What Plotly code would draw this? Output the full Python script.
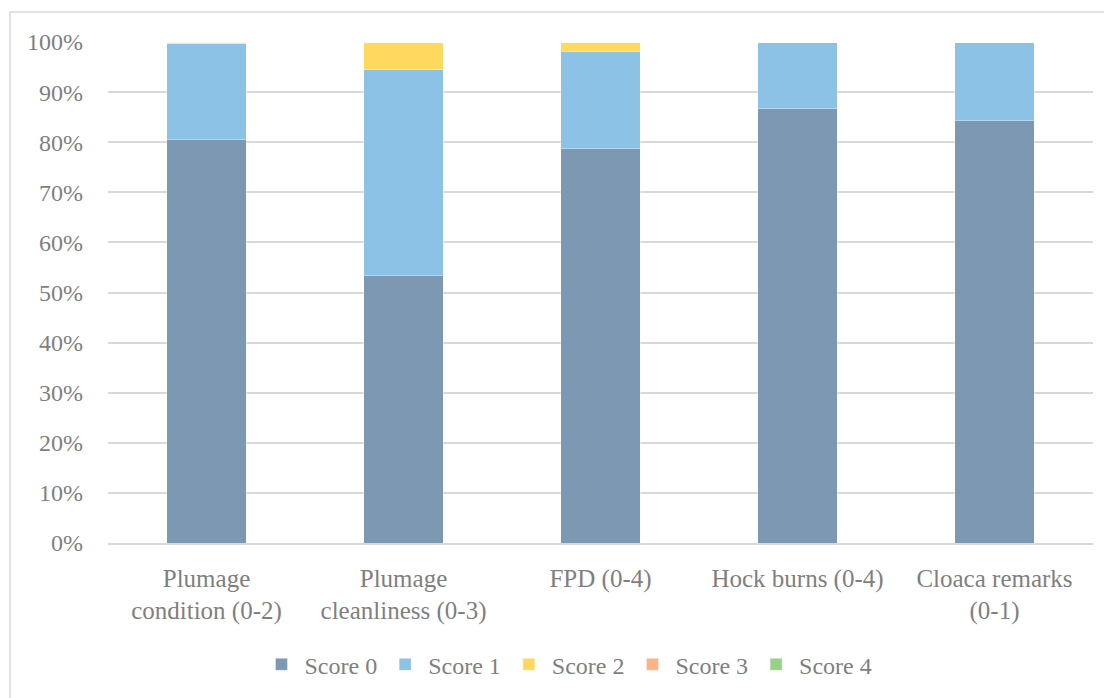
import plotly.graph_objects as go

categories = ["Plumage<br>condition (0-2)", "Plumage<br>cleanliness (0-3)", "FPD (0-4)",
              "Hock burns (0-4)", "Cloaca remarks<br>(0-1)"]
series_names = ["Score 0", "Score 1", "Score 2", "Score 3", "Score 4"]
score0 = [80.5, 53.3, 78.7, 86.7, 84.3]
score1 = [19.2, 41.3, 19.5, 13.3, 15.7]
score2 = [0.3, 5.4, 1.8, 0.0, 0.0]
score3 = [0.0, 0.0, 0.0, 0.0, 0.0]
score4 = [0.0, 0.0, 0.0, 0.0, 0.0]
colors = ["#7C98B3", "#8CC2E6", "#FFD95E", "#FFB283", "#97D28A"]

FONT = "Liberation Serif, DejaVu Serif, serif"
fig = go.Figure()
for name, vals, col in zip(series_names, [score0, score1, score2, score3, score4], colors):
    fig.add_trace(go.Bar(x=categories, y=vals, name=name,
                         marker=dict(color=col, line=dict(color="rgba(255,255,255,0.6)", width=0.6))))

fig.update_layout(
    barmode="stack", bargap=0.595,
    width=1112, height=698,
    margin=dict(l=100, r=27, t=34, b=163),
    paper_bgcolor="white", plot_bgcolor="white",
    font=dict(family=FONT, size=24, color="#7F7F7F"),
    showlegend=True,
    legend=dict(orientation="h", x=0.467, xanchor="center", y=-0.243, yanchor="middle",
                font=dict(size=24, color="#7F7F7F"), traceorder="normal", itemwidth=36),
    xaxis=dict(showgrid=False, showline=True, linecolor="#D9D9D9", linewidth=1.5,
               ticks="", ticklabelstandoff=12, tickfont=dict(size=25, color="#7F7F7F")),
    yaxis=dict(range=[0, 100], dtick=10, ticksuffix="%", showgrid=True,
               gridcolor="#D9D9D9", gridwidth=1.5, zeroline=False,
               showline=False, ticks="", ticklabelstandoff=24,
               tickfont=dict(size=24, color="#7F7F7F")),
    shapes=[dict(type="rect", xref="paper", yref="paper",
                 x0=-0.0995, x1=1.2, y0=-0.5, y1=1.06,
                 line=dict(color="#D9D9D9", width=1.5), fillcolor="rgba(0,0,0,0)",
                 layer="below")],
)
fig.write_html("out.html")
